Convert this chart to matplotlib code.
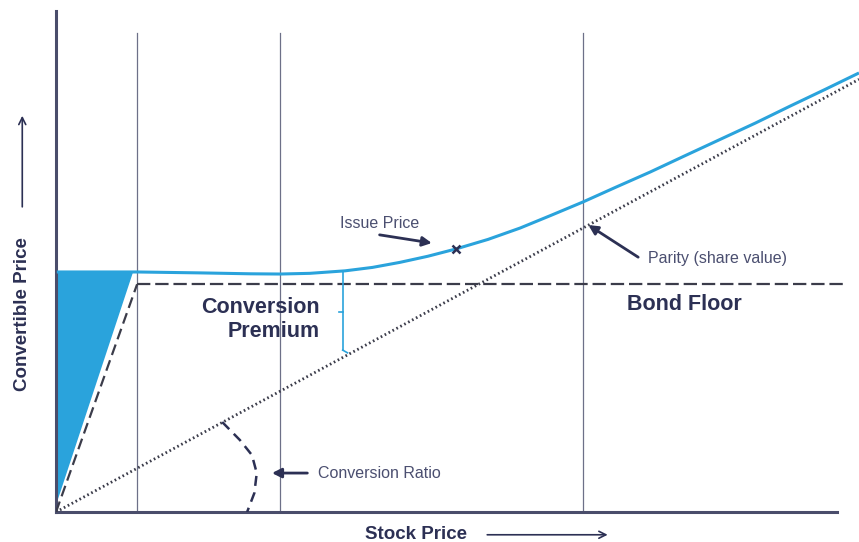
import numpy as np
import matplotlib
matplotlib.use("Agg")
import matplotlib.pyplot as plt

plt.rcParams["font.family"] = ["Liberation Sans", "DejaVu Sans"]

# ---- schematic values: stock price (x) vs convertible price (y), bond floor = 100 ----
convertible_s = [0.1, 10.1, 17.9, 24.2, 27.9, 31.6, 36.0, 39.4, 42.8, 46.3, 49.8, 53.8,
                 57.8, 61.6, 65.6, 69.7, 74.0, 78.3, 82.7, 87.1, 91.4, 95.8, 100.0]
convertible_v = [105.4, 105.4, 105.0, 104.6, 104.5, 104.8, 105.9, 107.4, 109.6, 112.3,
                 115.5, 119.7, 124.7, 130.2, 136.1, 142.6, 149.3, 156.4, 163.6, 170.8,
                 178.2, 185.6, 192.8]

issue_s, issue_v = 49.8, 115.5

parity_s = [0, 100]
parity_v = [0, 190]

floor_s = [10.1, 98.3]
floor_v = [100, 100]
ramp_s = [0, 10.1]
ramp_v = [0, 100]

shade_s = [0, 9.6, 0]
shade_v = [105.4, 105.4, 3]

guide_s = [10.1, 27.9, 65.6]
guide_top = 210.4

premium_s = 35.7
premium_v = [105.8, 71.1]

ratio_arc_s = [20.7, 22.9, 24.4, 25.0, 24.7, 23.8]
ratio_arc_v = [39.5, 31.6, 25.0, 17.1, 8.3, 0]

# colours
BLUE = "#2aa3dc"
NAVY = "#2c3054"
NOTE = "#4b4f70"
AXIS = "#4a4d6b"
GUIDE = "#6d7088"
DASH = "#3b3c4a"

fig = plt.figure(figsize=(8.59, 5.42), dpi=100)
ax = fig.add_axes([56 / 859, 30 / 542, 803 / 859, 501 / 542])
ax.set_xlim(0, 100)
ax.set_ylim(0, 220)

for side in ["top", "right"]:
    ax.spines[side].set_visible(False)
ax.spines["left"].set_color(AXIS)
ax.spines["left"].set_linewidth(2.2)
ax.spines["bottom"].set_color(AXIS)
ax.spines["bottom"].set_linewidth(2.2)
ax.spines["bottom"].set_bounds(0, 97.3)
ax.set_xticks([])
ax.set_yticks([])

# thin vertical guides
for s in guide_s:
    ax.plot([s, s], [0, guide_top], color=GUIDE, lw=0.9, zorder=1)

# shaded wedge below the flat part
ax.fill(shade_s, shade_v, color=BLUE, lw=0, zorder=2)

# bond floor
ax.plot(ramp_s, ramp_v, color=DASH, lw=1.6, dashes=(5, 2.5), zorder=3)
ax.plot(floor_s, floor_v, color=DASH, lw=1.6, dashes=(6, 2.2), zorder=3)

# parity line
ax.plot(parity_s, parity_v, color=DASH, lw=2.0, ls=(0, (0.6, 1.0)), zorder=3)

# convertible price curve
ax.plot(convertible_s, convertible_v, color=BLUE, lw=2.2, zorder=4, clip_on=False,
        solid_joinstyle="round", solid_capstyle="butt")
ax.plot(issue_s, issue_v, marker="x", color=NAVY, ms=6, mew=1.8, zorder=5)

# conversion premium bracket
ax.plot([premium_s, premium_s], premium_v, color=BLUE, lw=1.2, zorder=4)
ax.plot([premium_s - 0.5, premium_s], [88, 88], color=BLUE, lw=1.2, zorder=4)
ax.plot([premium_s, premium_s + 0.6], [premium_v[1], premium_v[1] - 1.2], color=BLUE, lw=1.2, zorder=4)

# conversion ratio arc
ax.plot(ratio_arc_s, ratio_arc_v, color=NAVY, lw=1.8, dashes=(4, 2.6), zorder=4)

# labels inside the chart
ax.text(32.9, 84.5, "Conversion\nPremium", ha="right", va="center", ma="right",
        fontsize=15.5, fontweight="bold", color=NAVY, linespacing=1.15)
ax.text(78.3, 90.9, "Bond Floor", ha="center", va="center",
        fontsize=15.5, fontweight="bold", color=NAVY)

head = dict(arrowstyle="-|>,head_length=0.55,head_width=0.28", color=NAVY, lw=2.0,
            shrinkA=0, shrinkB=0)
ax.text(40.3, 126.9, "Issue Price", ha="center", va="center", fontsize=11.5, color=NOTE)
ax.annotate("", xy=(46.8, 118.1), xytext=(40.3, 121.7), arrowprops=head)

ax.text(73.7, 111.5, "Parity (share value)", ha="left", va="center", fontsize=11.5, color=NOTE)
ax.annotate("", xy=(66.3, 126.0), xytext=(72.5, 111.9), arrowprops=head)

ax.text(32.6, 17.1, "Conversion Ratio", ha="left", va="center", fontsize=11.5, color=NOTE)
ax.annotate("", xy=(26.9, 17.1), xytext=(31.3, 17.1), arrowprops=head)

# axis titles with arrows
axis_arrow = dict(arrowstyle="->,head_length=0.5,head_width=0.25", color=NAVY, lw=1.2,
                  shrinkA=0, shrinkB=0)
ax.text(44.8, -9.7, "Stock Price", ha="center", va="center", fontsize=13.5,
        fontweight="bold", color=NAVY)
ax.annotate("", xy=(68.7, -10.0), xytext=(53.7, -10.0), arrowprops=axis_arrow,
            annotation_clip=False)

ax.text(-4.2, 87.0, "Convertible Price", ha="center", va="center", rotation=90,
        fontsize=13.5, fontweight="bold", color=NAVY)
ax.annotate("", xy=(-4.2, 174.0), xytext=(-4.2, 134.0), arrowprops=axis_arrow,
            annotation_clip=False)

fig.savefig("out.png", dpi=100)
